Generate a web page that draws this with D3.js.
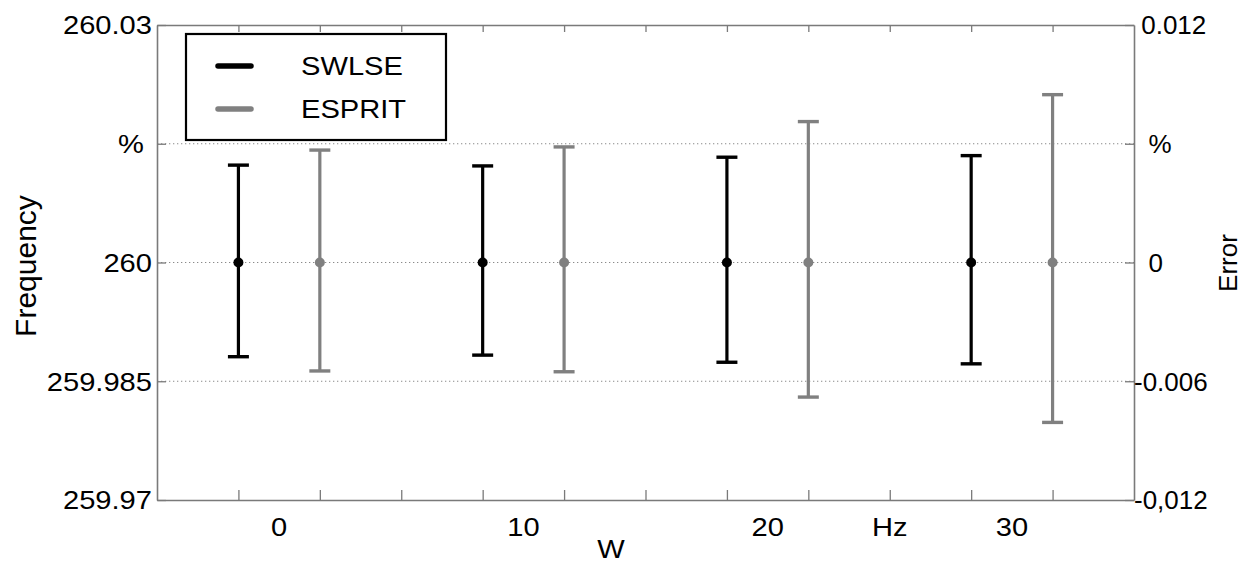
<!DOCTYPE html>
<html>
<head>
<meta charset="utf-8">
<script src="https://cdn.jsdelivr.net/npm/d3@7"></script>
<style>
  html, body { margin: 0; padding: 0; background: #fff; }
  svg text { font-family: "Liberation Sans", Arial, sans-serif; fill: #000; white-space: pre; }
</style>
</head>
<body>
<svg id="chart" width="1242" height="563"></svg>
<script>
// Category slots along x: SWLSE and ESPRIT share each group, side by side
const swlseX = [1, 4, 7, 10];
const swlseMean = [260, 260, 260, 260];
const swlseUpper = [260.0123, 260.0122, 260.0133, 260.0135];
const swlseLower = [259.9881, 259.9883, 259.9874, 259.9872];

const espritX = [2, 5, 8, 11];
const espritMean = [260, 260, 260, 260];
const espritUpper = [260.0142, 260.0146, 260.0178, 260.0212];
const espritLower = [259.9863, 259.9862, 259.9830, 259.9798];

const xTicks = [1, 2, 3, 4, 5, 6, 7, 8, 9, 10, 11];
const xLabelPos = [1.5, 4.5, 7.5, 9, 10.5];
const xLabels = ["0", "10", "20", "Hz", "30"];

const yTicks = [259.97, 259.985, 260, 260.015, 260.03];
const yLeftLabels = ["259.97", "259.985", "260", "% ", "260.03"];
const yRightLabels = ["-0,012", "-0.006", "  0", "  %", " 0.012"];
const gridValues = [259.985, 260, 260.015];

const seriesNames = ["SWLSE", "ESPRIT"];
const seriesColors = ["#000000", "#808080"];

const svg = d3.select("#chart");
const m = { left: 157, right: 1134, top: 25, bottom: 500 };

const x = d3.scaleLinear().domain([0, 12]).range([m.left, m.right]);
const y = d3.scaleLinear().domain([259.97, 260.03]).range([m.bottom, m.top]);

const axisColor = "#7a7a7a";
const fontSize = 26;

// dotted horizontal grid
svg.append("g").selectAll("line").data(gridValues).join("line")
  .attr("x1", m.left).attr("x2", m.right)
  .attr("y1", d => y(d)).attr("y2", d => y(d))
  .attr("stroke", "#8a8a8a").attr("stroke-width", 1.2)
  .attr("stroke-dasharray", "1.3,2.7");

// frame with inward ticks on all four sides
const bottomAxis = d3.axisBottom(x).tickValues(xTicks).tickSize(-10).tickSizeOuter(0).tickFormat("");
const topAxis = d3.axisTop(x).tickValues(xTicks).tickSize(-7).tickSizeOuter(0).tickFormat("");
const leftAxis = d3.axisLeft(y).tickValues(yTicks).tickSize(-9).tickSizeOuter(0).tickFormat("");
const rightAxis = d3.axisRight(y).tickValues(yTicks).tickSize(-9).tickSizeOuter(0).tickFormat("");

function styleAxis(g) {
  g.selectAll("path").attr("stroke", axisColor).attr("stroke-width", 1.6);
  g.selectAll("line").attr("stroke", axisColor).attr("stroke-width", 1.3);
}
svg.append("g").attr("transform", `translate(0,${m.bottom})`).call(bottomAxis).call(styleAxis);
svg.append("g").attr("transform", `translate(0,${m.top})`).call(topAxis).call(styleAxis);
svg.append("g").attr("transform", `translate(${m.left},0)`).call(leftAxis).call(styleAxis);
svg.append("g").attr("transform", `translate(${m.right},0)`).call(rightAxis).call(styleAxis);

// text placed at (px, py), optionally widened horizontally
function label(sel, px, py, anchor, stretch = 1.12) {
  return sel.attr("transform", (d, i) => `translate(${px(d, i)},${py(d, i)}) scale(${stretch},1)`)
    .attr("dy", "0.36em").attr("text-anchor", anchor).attr("font-size", fontSize);
}

// tick labels
svg.append("g").selectAll("text").data(yTicks).join("text")
  .call(label, () => m.left - 5, d => y(d), "end")
  .text((d, i) => yLeftLabels[i]);

svg.append("g").selectAll("text").data(yTicks).join("text")
  .call(label, () => m.right, d => y(d), "start", 1)
  .text((d, i) => yRightLabels[i]);

svg.append("g").selectAll("text").data(xLabelPos).join("text")
  .call(label, d => x(d), () => 527, "middle")
  .text((d, i) => xLabels[i]);

// axis titles
svg.append("text").datum(0).call(label, () => 611, () => 549, "middle").text("W");
svg.append("text").attr("transform", "translate(25,266) rotate(-90)").attr("dy", "0.36em")
  .attr("text-anchor", "middle").attr("font-size", 30).text("Frequency");
svg.append("text").attr("transform", "translate(1228,263) rotate(-90)").attr("dy", "0.36em")
  .attr("text-anchor", "middle").attr("font-size", 26).text("Error");

// error bars
function drawSeries(xs, mean, lo, hi, color) {
  const data = xs.map((d, i) => ({ x: d, m: mean[i], lo: lo[i], hi: hi[i] }));
  const g = svg.append("g");
  const capW = 10.5;
  g.selectAll("line.stem").data(data).join("line")
    .attr("x1", d => x(d.x)).attr("x2", d => x(d.x))
    .attr("y1", d => y(d.hi)).attr("y2", d => y(d.lo))
    .attr("stroke", color).attr("stroke-width", 3.2);
  g.selectAll("line.capTop").data(data).join("line")
    .attr("x1", d => x(d.x) - capW).attr("x2", d => x(d.x) + capW)
    .attr("y1", d => y(d.hi)).attr("y2", d => y(d.hi))
    .attr("stroke", color).attr("stroke-width", 3.4);
  g.selectAll("line.capBot").data(data).join("line")
    .attr("x1", d => x(d.x) - capW).attr("x2", d => x(d.x) + capW)
    .attr("y1", d => y(d.lo)).attr("y2", d => y(d.lo))
    .attr("stroke", color).attr("stroke-width", 3.4);
  g.selectAll("circle").data(data).join("circle")
    .attr("cx", d => x(d.x)).attr("cy", d => y(d.m)).attr("r", 5)
    .attr("fill", color);
}
drawSeries(swlseX, swlseMean, swlseLower, swlseUpper, seriesColors[0]);
drawSeries(espritX, espritMean, espritLower, espritUpper, seriesColors[1]);

// legend
const lg = svg.append("g");
lg.append("rect").attr("x", 186).attr("y", 34).attr("width", 260).attr("height", 106)
  .attr("fill", "#fff").attr("stroke", "#000").attr("stroke-width", 2.2);
seriesNames.forEach((name, i) => {
  const yy = 66 + i * 43;
  lg.append("line").attr("x1", 218).attr("x2", 251).attr("y1", yy).attr("y2", yy)
    .attr("stroke", seriesColors[i]).attr("stroke-width", 5.5).attr("stroke-linecap", "round");
  lg.append("text").datum(0).call(label, () => 301, () => yy, "start").text(name);
});
</script>
</body>
</html>
